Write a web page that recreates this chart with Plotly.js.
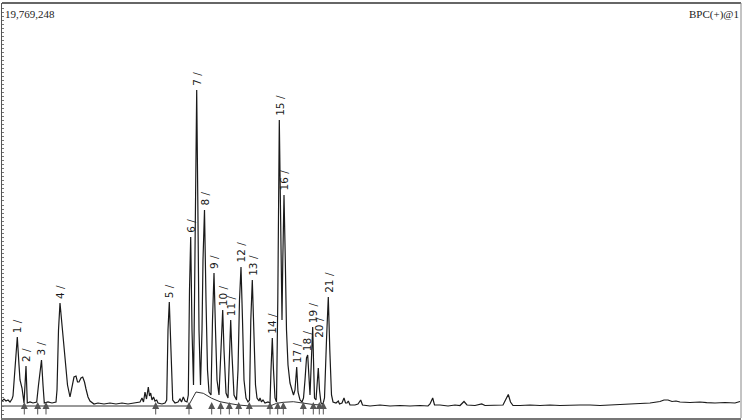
<!DOCTYPE html>
<html>
<head>
<meta charset="utf-8">
<script src="https://cdn.plot.ly/plotly-3.0.1.min.js"></script>
<style>html,body{margin:0;padding:0;background:#fff;}#chart{width:743px;height:420px;}</style>
</head>
<body>
<div id="chart"></div>
<script>
// Retention time (min) and relative intensity (% of 19,769,248 counts)
const rt = [0,0.1,0.2,0.3,0.4,0.5,0.55,0.65,0.765,0.85,0.9,1.0,1.1,1.15,1.2,1.265,1.4,1.55,1.735,1.825,1.975,2.05,2.115,2.3,2.5,2.7,2.75,2.825,2.9,3.0,3.15,3.275,3.4,3.5,3.6,3.7,3.775,3.85,3.95,4.035,4.125,4.2,4.3,4.4,4.6,4.8,5.1,5.4,5.7,6.0,6.3,6.6,6.9,7.0,7.075,7.15,7.225,7.315,7.375,7.435,7.5,7.575,7.65,7.735,7.8,8.0,8.15,8.235,8.3,8.365,8.425,8.535,8.65,8.8,8.9,8.975,9.065,9.15,9.25,9.315,9.375,9.435,9.5,9.575,9.625,9.68,9.735,9.79,9.85,9.925,10.0,10.05,10.125,10.2,10.275,10.35,10.45,10.525,10.6,10.675,10.75,10.85,10.95,11.035,11.1,11.2,11.3,11.375,11.435,11.5,11.6,11.725,11.8,11.875,11.95,12.025,12.1,12.2,12.3,12.375,12.44,12.515,12.59,12.675,12.75,12.85,12.9,12.975,13.05,13.15,13.3,13.4,13.45,13.515,13.575,13.65,13.725,13.79,13.865,13.94,14.0,14.04,14.1,14.165,14.225,14.3,14.4,14.5,14.575,14.65,14.735,14.8,14.9,15.0,15.075,15.15,15.225,15.285,15.35,15.4,15.45,15.5,15.535,15.575,15.625,15.7,15.765,15.815,15.875,15.95,16.05,16.125,16.225,16.315,16.39,16.475,16.55,16.7,16.815,16.875,17.0,17.1,17.175,17.25,17.315,17.4,17.65,17.8,17.935,18.025,18.4,18.9,19.4,19.9,20.4,20.9,21.3,21.4,21.535,21.625,21.9,22.3,22.65,22.9,23.1,23.25,23.65,23.985,24.15,24.65,25.05,25.2,25.315,25.425,25.55,25.9,26.4,26.9,27.4,27.9,28.4,28.9,29.4,29.9,30.4,30.9,31.4,31.9,32.4,32.9,33.1,33.3,33.5,33.7,33.9,34.4,34.9,35.235,35.65,36.15,36.65,36.9];
const intensity = [1.24,1.74,1.24,1.49,1.0,1.74,2.49,8.96,17.16,10.2,6.47,4.48,0.75,5.22,9.95,0.75,1.0,0.75,1.0,5.22,11.44,5.22,0.75,1.0,0.75,1.0,3.98,18.9,25.62,20.15,12.19,5.22,2.24,5.22,7.21,7.46,5.97,5.97,6.97,7.21,5.97,4.23,2.24,1.24,0.5,0.75,0.5,0.75,0.5,0.75,0.5,0.75,1.0,1.99,1.0,3.48,1.74,4.73,2.49,3.23,1.49,2.24,1.24,1.49,0.75,0.5,0.75,1.49,18.9,25.87,16.42,1.49,0.75,1.0,1.74,1.0,2.24,1.24,1.0,2.74,28.86,42.04,18.9,5.22,26.37,63.68,78.61,51.24,18.9,5.22,18.9,36.32,48.76,26.37,8.96,3.48,2.74,21.39,33.08,18.9,6.47,2.74,16.42,23.88,13.93,3.23,1.99,13.93,21.39,12.69,2.74,1.49,8.96,26.37,34.58,21.39,6.47,1.99,1.0,1.49,21.39,31.34,18.9,5.22,1.99,1.24,1.99,1.0,1.49,0.75,1.0,0.75,8.96,16.92,8.96,1.99,1.0,26.37,71.14,38.81,21.39,36.32,52.49,36.32,18.9,10.2,5.72,3.98,2.74,3.98,9.70,3.48,1.49,1.0,1.99,6.47,11.94,12.69,6.47,2.74,8.96,17.66,19.65,11.44,1.99,1.49,5.22,9.45,3.98,0.75,0.5,1.99,16.42,27.11,13.93,2.74,1.0,0.75,1.24,0.5,0.75,1.99,0.75,0.75,1.24,0.25,0.25,0.5,1.49,0.25,0,0.25,0,0.12,0,0.12,0,0.5,1.99,0.25,0.25,0,0.25,0.12,1.12,0.25,0.12,0.5,0.12,0.25,0.25,1.74,2.86,1.0,0.12,0.12,0.25,0.12,0.25,0.12,0.25,0.25,0.25,0.12,0.25,0.37,0.37,0.62,0.75,1.12,1.49,1.49,1.12,1.24,1.0,0.87,1.0,0.82,0.75,0.87,0.75,1.12];

// Integration baseline
const baseRt = [0,9.315,9.7,10.065,10.485,10.9,11.315,11.815,12.4,13.4,13.735,14.065,14.565,15.065,15.55,15.985,16.1];
const baseInt = [0,0,3.48,3.16,1.92,1.07,0.67,0.25,0,0,0.67,0.92,1.07,0.67,0.37,0.25,0.12];

// Peak boundary markers
const markerRt = [1.115,1.785,2.2,7.685,9.35,10.485,10.935,11.365,11.835,12.365,13.4,13.785,14.065,15.065,15.565,15.865,16.065];

// Labelled peaks
const peakNames = ["1","2","3","4","5","6","7","8","9","10","11","12","13","14","15","16","17","18","19","20","21"];
const peakRt = [0.765,1.2,1.975,2.9,8.365,9.435,9.735,10.125,10.6,11.035,11.435,11.95,12.515,13.515,13.865,14.1,14.735,15.285,15.535,15.815,16.315];
const peakInt = [17.16,9.95,11.44,25.62,25.87,42.04,78.61,48.76,33.08,23.88,21.39,34.58,31.34,16.92,71.14,52.49,9.70,12.69,19.65,9.45,27.11];

const fullScale = "19,769,248";
const channel = "BPC(+)@1";

const annotations = [];
peakNames.forEach((n, i) => {
  annotations.push({
    x: peakRt[i], y: peakInt[i], xref: 'x', yref: 'y',
    text: n + ' /', showarrow: false, textangle: -90,
    xanchor: 'center', yanchor: 'bottom', yshift: n === '20' ? 28 : 2,
    font: {family: 'DejaVu Sans', size: 10.5, color: '#1a1a1a'}
  });
});
markerRt.forEach(t => {
  annotations.push({
    x: t, y: 1.0, xref: 'x', yref: 'y', text: '', showarrow: true,
    ax: 0, ay: 14, arrowhead: 2, arrowsize: 1.4, arrowwidth: 1, arrowcolor: '#555'
  });
});
annotations.push({
  xref: 'paper', yref: 'paper', x: 0, y: 1, xanchor: 'left', yanchor: 'top',
  xshift: 1, yshift: -3, text: fullScale, showarrow: false,
  font: {family: 'Liberation Serif', size: 11, color: '#222'}
});
annotations.push({
  xref: 'paper', yref: 'paper', x: 1, y: 1, xanchor: 'right', yanchor: 'top',
  xshift: 0, yshift: -3, text: channel, showarrow: false,
  font: {family: 'Liberation Serif', size: 11, color: '#222'}
});

const data = [
  {x: baseRt, y: baseInt, type: 'scatter', mode: 'lines',
   line: {color: '#333', width: 1}, hoverinfo: 'skip'},
  {x: rt, y: intensity, type: 'scatter', mode: 'lines',
   line: {color: '#1a1a1a', width: 1.2}}
];

const layout = {
  width: 743, height: 420,
  margin: {l: 2, r: 2, t: 3, b: 2},
  paper_bgcolor: '#fff', plot_bgcolor: '#fff',
  showlegend: false,
  xaxis: {range: [0, 36.95], showgrid: false, zeroline: false, showticklabels: false,
          ticks: '', showline: true, linecolor: '#777', linewidth: 2, mirror: false},
  yaxis: {range: [-2.985, 100.25], showgrid: false, zeroline: false, showticklabels: false,
          ticks: 'inside', ticklen: 2, tickcolor: '#777', tickwidth: 1, dtick: 1, tick0: 0,
          showline: true, linecolor: '#555', linewidth: 1, mirror: false},
  shapes: [
    {type: 'line', xref: 'paper', yref: 'paper', x0: 0, x1: 1, y0: 1, y1: 1, line: {color: '#666', width: 2}},
    {type: 'line', xref: 'paper', yref: 'paper', x0: 1, x1: 1, y0: 0, y1: 1, line: {color: '#888', width: 1}}
  ],
  annotations: annotations
};

Plotly.newPlot('chart', data, layout, {staticPlot: true, displayModeBar: false});
</script>
</body>
</html>
